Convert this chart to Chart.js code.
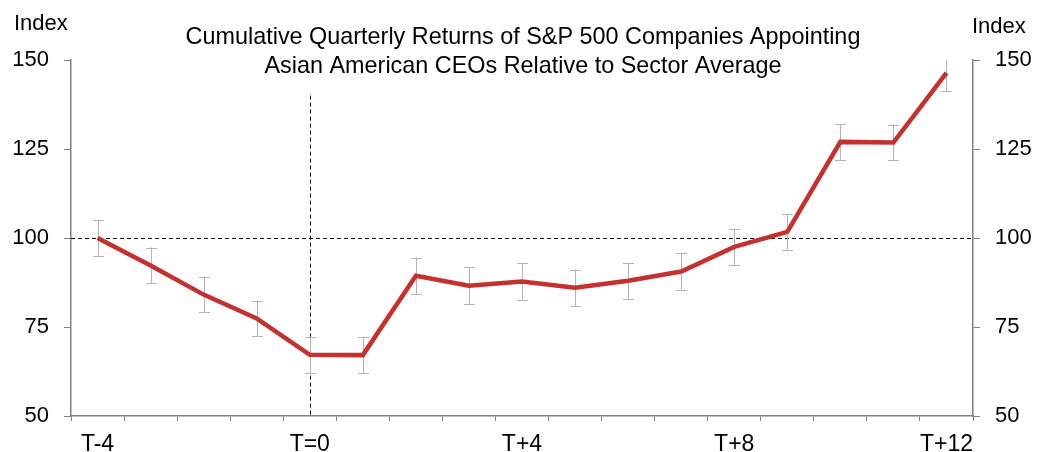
<!DOCTYPE html>
<html><head><meta charset="utf-8">
<script src="https://cdn.jsdelivr.net/npm/chart.js@4/dist/chart.umd.min.js"></script>
<style>html,body{margin:0;padding:0;background:#fff;}canvas{display:block;}</style>
</head><body>
<canvas id="c" width="1038" height="452"></canvas>
<script>
const categories = ['T-4','T-3','T-2','T-1','T=0','T+1','T+2','T+3','T+4','T+5','T+6','T+7','T+8','T+9','T+10','T+11','T+12'];
const shownLabels = ['T-4','T=0','T+4','T+8','T+12'];
const indexValues = [100, 92.3, 84.1, 77.4, 67.2, 67.1, 89.4, 86.6, 87.8, 86.0, 88.0, 90.6, 97.5, 101.7, 127.0, 126.8, 146.4];
const errorMargin = [5, 5, 5, 5, 5.1, 5.1, 5.1, 5.2, 5.1, 5.1, 5.0, 5.1, 5.1, 5.0, 5.0, 5.0, 5.0];
const yTicks = [50, 75, 100, 125, 150];
const titleLines = ['Cumulative Quarterly Returns of S&P 500 Companies Appointing', 'Asian American CEOs Relative to Sector Average'];
const axisUnit = 'Index';
const baselineValue = 100;
const eventCategory = 'T=0';
const eventLineTop = 140;

const FONT = "'Liberation Sans', Arial, sans-serif";

const overlay = {
  id: 'overlay',
  beforeDatasetsDraw(chart) {
    const {ctx, chartArea: a, scales: {x, y}} = chart;
    ctx.save();
    ctx.strokeStyle = '#000';
    ctx.lineWidth = 1;
    ctx.setLineDash([4, 3]);
    const yb = Math.round(y.getPixelForValue(baselineValue)) + 0.5;
    ctx.beginPath(); ctx.moveTo(a.left, yb); ctx.lineTo(a.right, yb); ctx.stroke();
    const xe = Math.round(x.getPixelForValue(categories.indexOf(eventCategory))) + 0.5;
    ctx.beginPath(); ctx.moveTo(xe, y.getPixelForValue(eventLineTop)); ctx.lineTo(xe, a.bottom); ctx.stroke();
    ctx.setLineDash([]);
    ctx.beginPath(); ctx.rect(a.left, a.top, a.right - a.left, a.bottom - a.top); ctx.clip();
    ctx.strokeStyle = '#b4b4b4';
    ctx.lineWidth = 1;
    indexValues.forEach((v, i) => {
      const px = Math.round(x.getPixelForValue(i)) + 0.5;
      const hi = y.getPixelForValue(v + errorMargin[i]);
      const lo = y.getPixelForValue(v - errorMargin[i]);
      ctx.beginPath();
      ctx.moveTo(px, hi); ctx.lineTo(px, lo);
      ctx.moveTo(px - 5.5, Math.round(hi) + 0.5); ctx.lineTo(px + 5.5, Math.round(hi) + 0.5);
      ctx.moveTo(px - 5.5, Math.round(lo) + 0.5); ctx.lineTo(px + 5.5, Math.round(lo) + 0.5);
      ctx.stroke();
    });
    ctx.restore();
  },
  afterDraw(chart) {
    const ctx = chart.ctx;
    ctx.save();
    ctx.fillStyle = '#000';
    ctx.textBaseline = 'alphabetic';
    ctx.font = '23.4px ' + FONT;
    ctx.textAlign = 'center';
    ctx.fillText(titleLines[0], 523, 44);
    ctx.fillText(titleLines[1], 523, 72.5);
    ctx.font = '22px ' + FONT;
    ctx.textAlign = 'left';
    ctx.fillText(axisUnit, 14, 30);
    ctx.fillText(axisUnit, 972, 33);
    ctx.restore();
  }
};

new Chart(document.getElementById('c'), {
  type: 'line',
  data: {
    labels: categories,
    datasets: [{
      data: indexValues,
      borderColor: '#C4312F',
      borderWidth: 4.5,
      pointRadius: 0,
      tension: 0,
      fill: false,
      yAxisID: 'y'
    }]
  },
  options: {
    responsive: false,
    devicePixelRatio: 1,
    animation: false,
    layout: { padding: { top: 60, left: 0, right: 0, bottom: 0 } },
    plugins: { legend: { display: false }, tooltip: { enabled: false }, title: { display: false } },
    scales: {
      x: {
        type: 'category',
        offset: true,
        grid: { offset: true, drawOnChartArea: false, drawTicks: true, tickLength: 5, color: '#808080', lineWidth: 1 },
        border: { display: true, color: '#808080', width: 1.5 },
        ticks: {
          autoSkip: false, maxRotation: 0, padding: 10, color: '#000',
          font: { family: FONT, size: 23 },
          callback: (v, i) => shownLabels.includes(categories[i]) ? categories[i] : ''
        },
        afterFit: s => { s.height = 36; }
      },
      y: {
        position: 'left', min: 50, max: 150,
        afterBuildTicks: s => { s.ticks = yTicks.map(v => ({ value: v })); },
        grid: { drawOnChartArea: false, drawTicks: true, tickLength: 7, color: '#808080' },
        border: { display: true, color: '#808080', width: 1.5 },
        ticks: { padding: 15, color: '#000', font: { family: FONT, size: 22 } },
        afterFit: s => { s.width = 71; }
      },
      y2: {
        position: 'right', min: 50, max: 150,
        afterBuildTicks: s => { s.ticks = yTicks.map(v => ({ value: v })); },
        grid: { drawOnChartArea: false, drawTicks: true, tickLength: 7, color: '#808080' },
        border: { display: true, color: '#808080', width: 1.5 },
        ticks: { padding: 15, color: '#000', font: { family: FONT, size: 22 } },
        afterFit: s => { s.width = 65; }
      }
    }
  },
  plugins: [overlay]
});
</script>
</body></html>
